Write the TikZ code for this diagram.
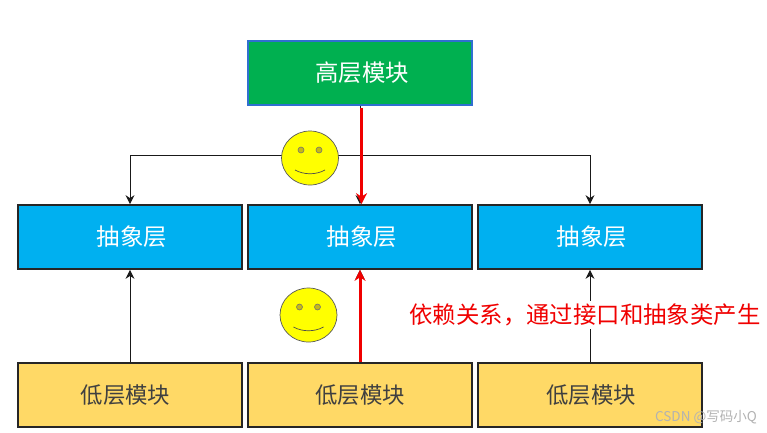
\documentclass[tikz,border=0pt]{standalone}
\usepackage{fontspec}
\setmainfont{Noto Sans CJK SC}
\usetikzlibrary{arrows.meta,calc}
\definecolor{topgreen}{HTML}{00B050}
\definecolor{topedge}{HTML}{2F6FD0}
\definecolor{midblue}{HTML}{00B0F0}
\definecolor{lowgold}{HTML}{FFD966}
\definecolor{edgedark}{HTML}{262626}
\definecolor{redline}{HTML}{F00000}
\definecolor{facefill}{HTML}{FFFF00}
\definecolor{eyefill}{HTML}{C4B818}
\tikzset{
  x=1pt,y=-1pt,
  modbox/.style={minimum width=224pt,minimum height=64pt,inner sep=0pt,line width=1.7pt,font=\fontsize{23.4}{26}\selectfont},
  topbox/.style={modbox,draw=topedge,fill=topgreen,text=white},
  midbox/.style={modbox,draw=edgedark,fill=midblue,text=white},
  lowbox/.style={modbox,draw=edgedark,fill=lowgold,text=black!75,font=\fontsize{22.4}{26}\selectfont},
  thinarrow/.style={draw=black!90,line width=1pt,-{Stealth[length=9pt,width=9pt]}},
  redarrow/.style={draw=redline,line width=3pt,-{Stealth[length=11pt,width=11pt]}},
  faceskin/.style={draw=black!65,line width=0.7pt,fill=facefill},
  faceeye/.style={draw=black!55,line width=0.6pt,fill=eyefill},
  facemouth/.style={draw=black!70,line width=0.7pt},
}
\newcommand{\smiley}[2]{%
  \begin{scope}[shift={(#1,#2)}]
    \draw[faceskin] (0,0) ellipse [x radius=28.5pt,y radius=27pt];
    \draw[faceeye] (-9,-8) circle [radius=3pt];
    \draw[faceeye] (9,-8) circle [radius=3pt];
    \draw[facemouth] (-15,12) .. controls (-6,17) and (6,17) .. (15,12);
  \end{scope}}
\begin{document}
\begin{tikzpicture}
\useasboundingbox (0,0) rectangle (767,432);
\fill[white] (0,0) rectangle (767,432);
\node[topbox] (hi) at (360,73) {\hspace*{4pt}高层模块};
\node[midbox] (a1) at (130,237) {\hspace*{4pt}抽象层};
\node[midbox] (a2) at (360,237) {\hspace*{4pt}抽象层};
\node[midbox] (a3) at (590,237) {\hspace*{4pt}抽象层};
\node[lowbox] (l1) at (130,395) {低层模块\hspace*{9pt}};
\node[lowbox] (l2) at (360,395) {低层模块};
\node[lowbox] (l3) at (590,395) {\hspace*{2pt}低层模块};
\coordinate (bus) at (360,155);
\draw[thinarrow] (hi.south) -- (bus) -| (a1.north);
\draw[thinarrow] (bus) -| (a3.north);
\draw[thinarrow] (hi.south) -- (a2.north);
\draw[thinarrow] (l1.north) -- (a1.south);
\draw[thinarrow] (l2.north) -- (a2.south);
\draw[thinarrow] (l3.north) -- (a3.south);
\draw[redarrow] ([xshift=1.5pt,yshift=-2pt]hi.south) -- ([xshift=1.5pt]a2.north);
\draw[redarrow] (l2.north) -- (a2.south);
\smiley{310}{158}
\smiley{308.5}{315}
\node[fill=white,inner xsep=1pt,inner ysep=3pt,text=redline,font=\fontsize{23.4}{26}\selectfont] (dep) at (585,315) {依赖关系，通过接口和抽象类产生};
\node[text=black!30,font=\fontsize{13.5}{15}\selectfont,inner sep=0pt] (wm) at (706,417) {CSDN @写码小Q};
\end{tikzpicture}
\end{document}
